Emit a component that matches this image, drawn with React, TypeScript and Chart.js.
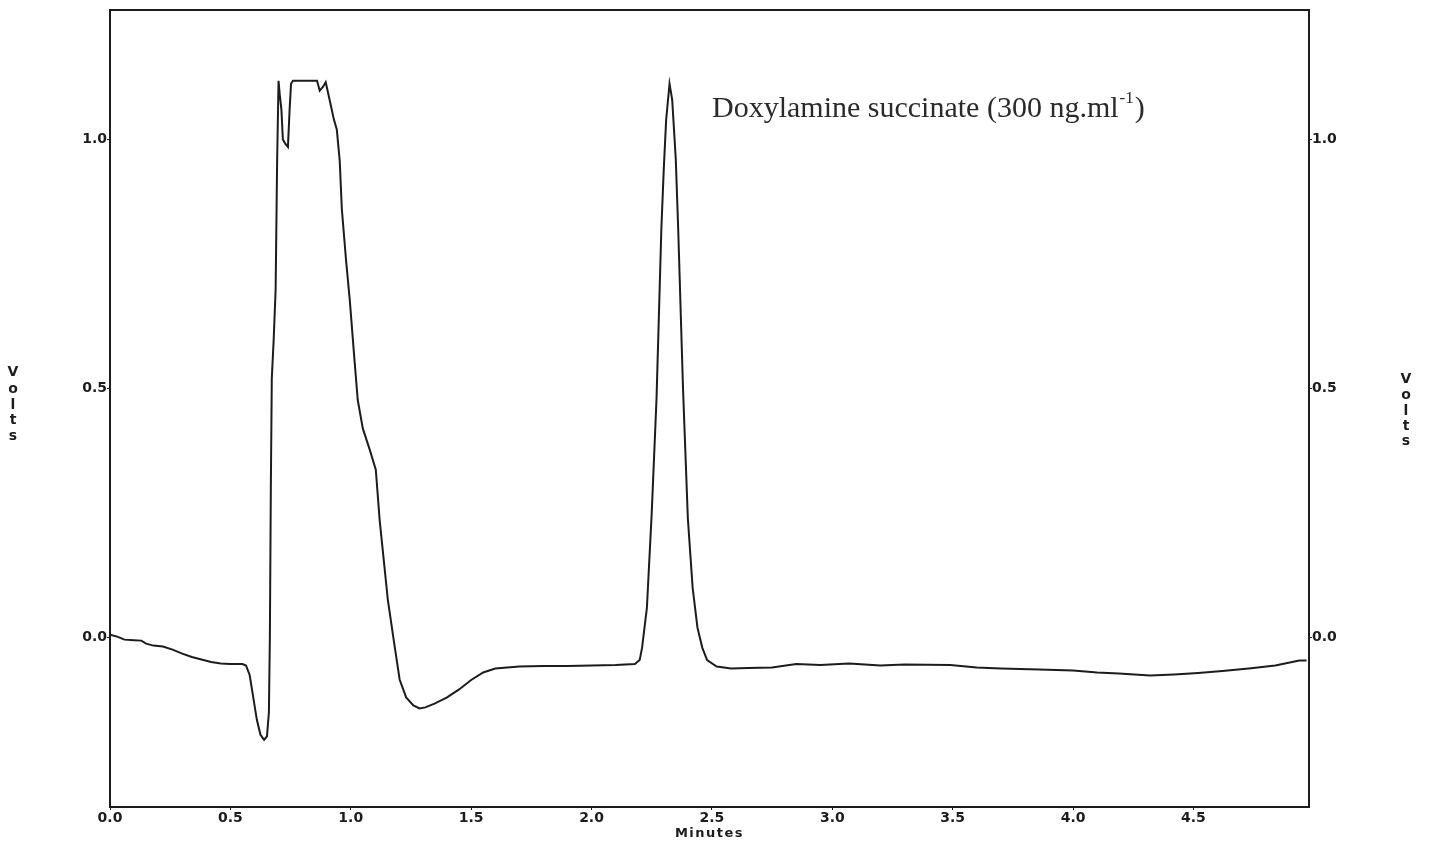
import React, { useEffect, useRef } from "react";
import { Chart, registerables } from "chart.js";

Chart.register(...registerables);

// Retention time (minutes)
const times: number[] = [
  0.0, 0.03, 0.06, 0.1, 0.13, 0.15, 0.18, 0.22, 0.26, 0.3, 0.34, 0.38, 0.42, 0.46, 0.5, 0.55,
  0.565, 0.58, 0.595, 0.61, 0.625, 0.64, 0.652, 0.66, 0.664, 0.668, 0.672, 0.68, 0.688, 0.694,
  0.7, 0.705, 0.712, 0.718, 0.73, 0.739, 0.746, 0.752, 0.76, 0.8, 0.84, 0.86, 0.871, 0.885,
  0.896, 0.913, 0.93, 0.942, 0.954, 0.963, 0.98, 0.996, 1.015, 1.029, 1.05, 1.079, 1.104, 1.12,
  1.154, 1.18, 1.203, 1.23, 1.26, 1.286, 1.31, 1.35, 1.4, 1.45, 1.5, 1.55, 1.6, 1.7, 1.8, 1.9,
  2.0, 2.1, 2.18, 2.2, 2.21, 2.23, 2.25, 2.27, 2.29, 2.3, 2.31, 2.324, 2.335, 2.35, 2.36, 2.38,
  2.4, 2.42, 2.44, 2.46, 2.48, 2.52, 2.58, 2.65, 2.75, 2.85, 2.95, 3.07, 3.2, 3.3, 3.49, 3.6,
  3.7, 3.86, 4.0, 4.1, 4.19, 4.32, 4.42, 4.52, 4.62, 4.73, 4.84, 4.94, 4.97,
];

// Detector response (volts)
const volts: number[] = [
  0.006, 0.002, -0.004, -0.005, -0.006, -0.012, -0.016, -0.018, -0.024, -0.032, -0.039, -0.044,
  -0.049, -0.052, -0.053, -0.053, -0.056, -0.075, -0.12, -0.165, -0.195, -0.205, -0.198, -0.15,
  0.0, 0.3, 0.52, 0.6, 0.7, 0.95, 1.118, 1.09, 1.06, 1.0, 0.99, 0.985, 1.06, 1.112, 1.118, 1.118,
  1.118, 1.118, 1.098, 1.106, 1.115, 1.078, 1.04, 1.02, 0.958, 0.86, 0.76, 0.677, 0.56, 0.477,
  0.42, 0.377, 0.337, 0.236, 0.076, -0.01, -0.084, -0.12, -0.136, -0.142, -0.14, -0.132, -0.12,
  -0.104, -0.085, -0.07, -0.062, -0.058, -0.057, -0.057, -0.056, -0.055, -0.053, -0.045, -0.02,
  0.06, 0.25, 0.48, 0.82, 0.94, 1.04, 1.112, 1.08, 0.96, 0.82, 0.5, 0.24, 0.1, 0.02, -0.02,
  -0.045, -0.058, -0.062, -0.061, -0.06, -0.053, -0.055, -0.052, -0.056, -0.054, -0.055, -0.06,
  -0.062, -0.064, -0.066, -0.07, -0.072, -0.076, -0.074, -0.071, -0.067, -0.062, -0.056, -0.046,
  -0.046,
];

const xTickValues: number[] = [0, 0.5, 1.0, 1.5, 2.0, 2.5, 3.0, 3.5, 4.0, 4.5];
const yTickValues: number[] = [0, 0.5, 1.0];
const xAxisTitle = "Minutes";
const yAxisTitle = "Volts";
const annotationMain = "Doxylamine succinate (300 ng.ml";
const annotationSup = "-1";
const annotationEnd = ")";

const tickFont = { family: "DejaVu Sans", size: 14, weight: "bold" as const };
const ink = "#1c1c1c";

export default function App() {
  const canvasRef = useRef<HTMLCanvasElement | null>(null);

  useEffect(() => {
    const canvas = canvasRef.current;
    if (!canvas) return;

    const textPlugin = {
      id: "textPlugin",
      afterDraw(chart: any) {
        const ctx = chart.ctx as CanvasRenderingContext2D;
        const a = chart.chartArea;
        ctx.save();
        // top border of frame
        ctx.strokeStyle = ink;
        ctx.lineWidth = 2;
        ctx.beginPath();
        ctx.moveTo(a.left, a.top);
        ctx.lineTo(a.right, a.top);
        ctx.stroke();

        // annotation
        ctx.fillStyle = "#2a2a2a";
        ctx.textBaseline = "alphabetic";
        ctx.textAlign = "left";
        const big = "30px 'Liberation Serif', 'Times New Roman', serif";
        const small = "17px 'Liberation Serif', 'Times New Roman', serif";
        ctx.font = big;
        const x0 = 712;
        const yb = 117;
        ctx.fillText(annotationMain, x0, yb);
        const w1 = ctx.measureText(annotationMain).width;
        ctx.font = small;
        ctx.fillText(annotationSup, x0 + w1 + 1, yb - 14);
        const w2 = ctx.measureText(annotationSup).width;
        ctx.font = big;
        ctx.fillText(annotationEnd, x0 + w1 + w2 + 2, yb);

        // axis title x
        ctx.fillStyle = ink;
        ctx.font = "bold 13px 'DejaVu Sans', sans-serif";
        (ctx as any).letterSpacing = "1.5px";
        ctx.textAlign = "center";
        ctx.textBaseline = "middle";
        ctx.fillText(xAxisTitle, (a.left + a.right) / 2, 834);
        (ctx as any).letterSpacing = "0px";

        // stacked Volts labels
        const offsetsL = [372, 389, 405, 420, 436];
        const offsetsR = [379, 395, 411, 426, 441];
        ctx.font = "bold 14px 'DejaVu Sans', sans-serif";
        yAxisTitle.split("").forEach((ch, i) => {
          ctx.fillText(ch, 13, offsetsL[i]);
          ctx.fillText(ch, 1406, offsetsR[i]);
        });
        ctx.restore();
      },
    };

    const chart = new Chart(canvas, {
      type: "line",
      data: {
        datasets: [
          {
            data: times.map((t, i) => ({ x: t, y: volts[i] })),
            borderColor: ink,
            borderWidth: 2,
            pointRadius: 0,
            tension: 0,
            fill: false,
          },
        ],
      },
      options: {
        responsive: false,
        animation: false,
        layout: { padding: { top: 10, left: 0, right: 0, bottom: 0 } },
        plugins: { legend: { display: false }, tooltip: { enabled: false } },
        scales: {
          x: {
            type: "linear",
            min: 0,
            max: 4.98,
            afterBuildTicks: (s: any) => {
              s.ticks = xTickValues.map((v) => ({ value: v }));
            },
            afterFit: (s: any) => {
              s.height = 38;
            },
            ticks: {
              font: tickFont,
              color: ink,
              padding: 0,
              maxRotation: 0,
              autoSkip: false,
              callback: (v: any) => Number(v).toFixed(1),
            },
            grid: { display: true, drawOnChartArea: false, tickLength: 3, color: ink },
            border: { display: true, color: ink, width: 2 },
          },
          y: {
            type: "linear",
            position: "left",
            min: -0.34,
            max: 1.26,
            afterBuildTicks: (s: any) => {
              s.ticks = yTickValues.map((v) => ({ value: v }));
            },
            afterFit: (s: any) => {
              s.width = 110;
            },
            ticks: {
              font: tickFont,
              color: ink,
              padding: 0,
              callback: (v: any) => Number(v).toFixed(1),
            },
            grid: { display: true, drawOnChartArea: false, tickLength: 3, color: ink },
            border: { display: true, color: ink, width: 2 },
          },
          y2: {
            type: "linear",
            position: "right",
            min: -0.34,
            max: 1.26,
            afterBuildTicks: (s: any) => {
              s.ticks = yTickValues.map((v) => ({ value: v }));
            },
            afterFit: (s: any) => {
              s.width = 128;
            },
            ticks: {
              font: tickFont,
              color: ink,
              padding: 0,
              callback: (v: any) => Number(v).toFixed(1),
            },
            grid: { display: true, drawOnChartArea: false, tickLength: 3, color: ink },
            border: { display: true, color: ink, width: 2 },
          },
        },
      },
      plugins: [textPlugin],
    } as any);

    return () => chart.destroy();
  }, []);

  return (
    <div style={{ position: "fixed", left: 0, top: 0, width: 1437, height: 845, background: "#fff" }}>
      <canvas ref={canvasRef} width={1437} height={845} style={{ width: 1437, height: 845 }} />
    </div>
  );
}
